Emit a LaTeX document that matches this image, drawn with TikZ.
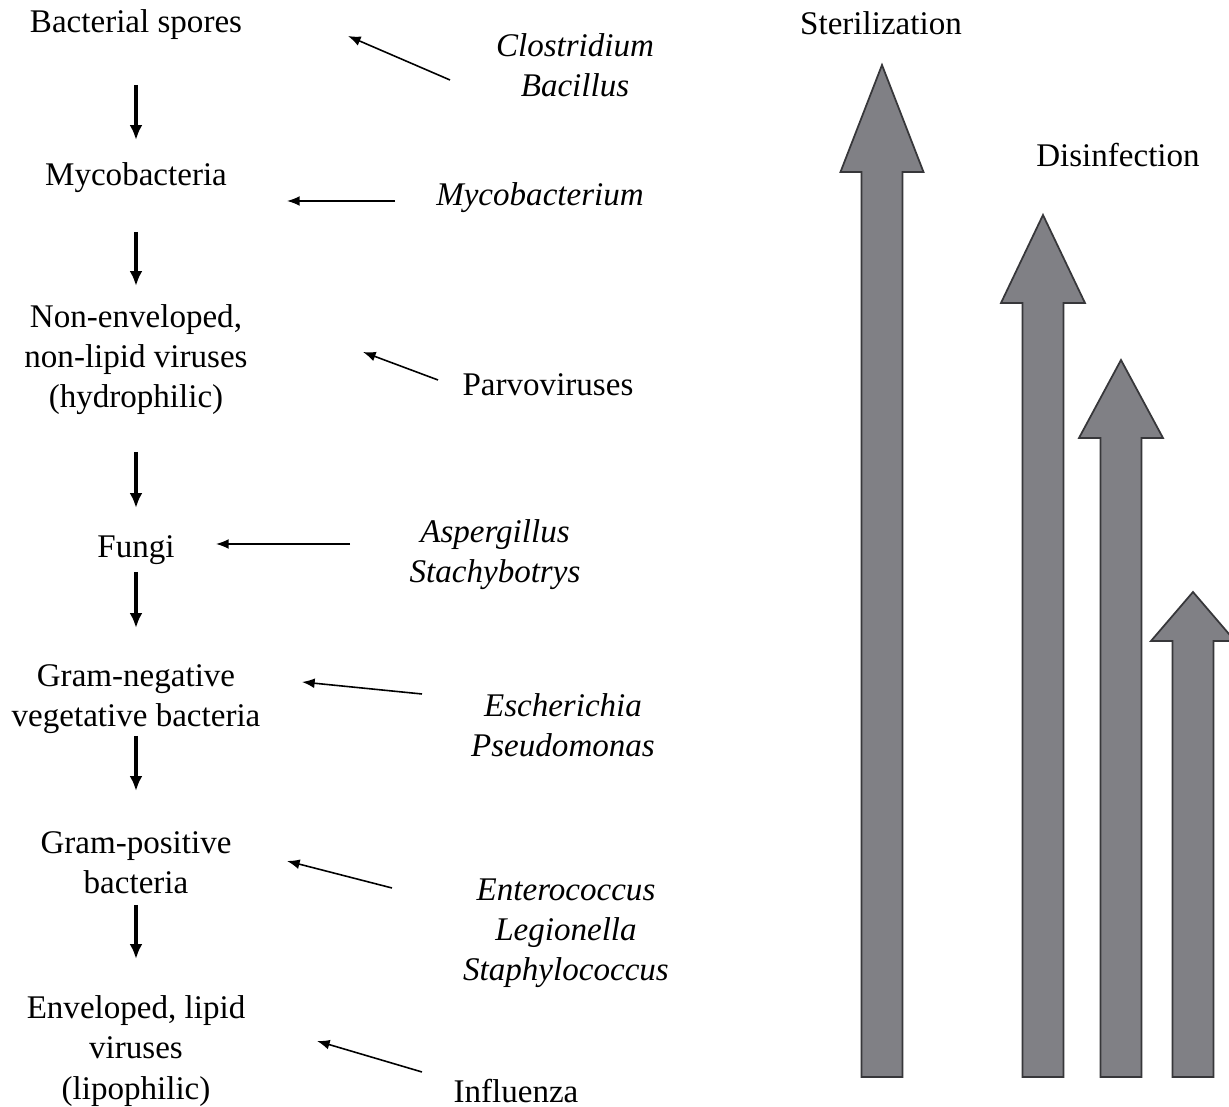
\documentclass[tikz,border=0pt]{standalone}
\usepackage{fontspec}
\setmainfont{Liberation Serif}
\usetikzlibrary{arrows.meta,positioning}

\definecolor{arrowgray}{RGB}{128,128,133}
\definecolor{edgegray}{RGB}{55,55,58}

\tikzset{
  every node/.style={font=\fontsize{9.4}{11.4}\selectfont, align=center, inner sep=0pt},
  group/.style={},
  genus/.style={font=\fontsize{9.4}{11.4}\selectfont\itshape},
  flow/.style={line width=0.9pt, -{Latex[length=4.2pt,width=3.6pt]}},
  pointer/.style={line width=0.45pt, -{Latex[length=3.6pt,width=2.8pt]}},
  bigarrow/.style={fill=arrowgray, draw=edgegray, line width=0.5pt, line join=miter}
}

\begin{document}
\begin{tikzpicture}[x=0.01cm, y=-0.01cm]
  \useasboundingbox (0,0) rectangle (1229,1107);

  % Groups of organisms, most resistant on top
  \node[group] (spores) at (136,25) {Bacterial spores};
  \node[group] (myco) at (136,178) {Mycobacteria};
  \node[group] (nonenv) at (136,360) {Non-enveloped,\\non-lipid viruses\\(hydrophilic)};
  \node[group] (fungi) at (136,550) {Fungi};
  \node[group] (gramneg) at (136,699) {Gram-negative\\vegetative bacteria};
  \node[group] (grampos) at (136,863) {Gram-positive\\bacteria};
  \node[group] (env) at (136,1051) {Enveloped, lipid\\viruses\\(lipophilic)};

  % Examples
  \node[genus] (clos) at (575,65) {Clostridium\\Bacillus};
  \node[genus] (mycob) at (540,198) {Mycobacterium};
  \node (parvo) at (548,385) {Parvoviruses};
  \node[genus] (asp) at (495,555) {Aspergillus\\Stachybotrys};
  \node[genus] (esch) at (563,725) {Escherichia\\Pseudomonas};
  \node[genus] (entero) at (566,933) {Enterococcus\\Legionella\\Staphylococcus};
  \node (flu) at (516,1091) {Influenza};

  % Resistance order
  \coordinate (d1) at (136,85);  \coordinate (e1) at (136,140);
  \coordinate (d2) at (136,232); \coordinate (e2) at (136,286);
  \coordinate (d3) at (136,452); \coordinate (e3) at (136,508);
  \coordinate (d4) at (136,572); \coordinate (e4) at (136,628);
  \coordinate (d5) at (136,736); \coordinate (e5) at (136,791);
  \coordinate (d6) at (136,905); \coordinate (e6) at (136,959);
  \foreach \i in {1,...,6}
    \draw[flow] (d\i) -- (e\i);

  % Pointers from examples
  \coordinate (c1) at (450,80);   \coordinate (s1) at (348,36);
  \coordinate (c2) at (395,201);  \coordinate (s2) at (287,201);
  \coordinate (c3) at (438,380);  \coordinate (s3) at (363,352);
  \coordinate (c4) at (350,544);  \coordinate (s4) at (216,544);
  \coordinate (c5) at (422,694);  \coordinate (s5) at (302,682);
  \coordinate (c6) at (392,888);  \coordinate (s6) at (287,861);
  \coordinate (c7) at (422,1072); \coordinate (s7) at (317,1041);
  \foreach \i in {1,...,7}
    \draw[pointer] (c\i) -- (s\i);

  % Sterilization / disinfection
  \node (steril) at (881,23) {Sterilization};
  \node (disinf) at (1118,155) {Disinfection};
  \foreach \cx/\ty/\hy/\hw in {882/65/172/41.5, 1043/215/303/42, 1121/360/438/42, 1193/592/641/42}
    \draw[bigarrow] (\cx-20.5,1077) -- (\cx-20.5,\hy) -- (\cx-\hw,\hy) -- (\cx,\ty)
      -- (\cx+\hw,\hy) -- (\cx+20.5,\hy) -- (\cx+20.5,1077) -- cycle;
\end{tikzpicture}
\end{document}
